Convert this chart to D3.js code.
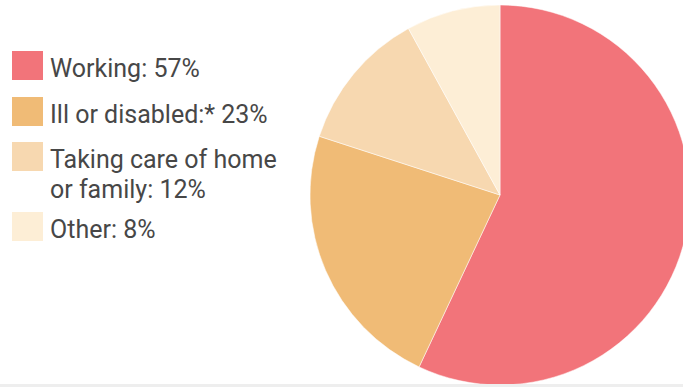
<!DOCTYPE html>
<html>
<head>
<meta charset="utf-8">
<script src="https://cdn.jsdelivr.net/npm/d3@7"></script>
<style>
  body { margin: 0; background: #fff; }
  svg { display: block; }
</style>
</head>
<body>
<div id="chart"></div>
<script>
// data
var categories = ["Working", "Ill or disabled:*", "Taking care of home or family", "Other"];
var values = [57, 23, 12, 8];
var legendLines = [["Working: 57%"], ["Ill or disabled:* 23%"], ["Taking care of home", "or family: 12%"], ["Other: 8%"]];
var colors = ["#f2747a", "#f0bb76", "#f7d8b0", "#fdeed6"];

var width = 683, height = 387;

var svg = d3.select("#chart")
  .append("svg")
    .attr("width", width)
    .attr("height", height);

// the pie
var radius = 190;
var g = svg.append("g")
    .attr("transform", "translate(500,195)");

var pie = d3.pie().sort(null).value(function(d) { return d; });
var arc = d3.arc().innerRadius(0).outerRadius(radius);

var color = d3.scaleOrdinal()
    .domain(categories)
    .range(colors);

g.selectAll("path")
  .data(pie(values))
  .enter().append("path")
    .attr("d", arc)
    .attr("fill", function(d, i) { return color(categories[i]); })
    .attr("stroke", "#fff")
    .attr("stroke-opacity", 0.5)
    .attr("stroke-width", 1);

// legend
var rowY = [51, 97, 142, 212];
var legend = svg.append("g")
  .selectAll("g")
  .data(categories)
  .enter().append("g")
    .attr("transform", function(d, i) { return "translate(12," + rowY[i] + ")"; });

legend.append("rect")
    .attr("width", 31)
    .attr("height", 29)
    .attr("fill", function(d) { return color(d); });

legend.append("text")
    .attr("x", 38)
    .attr("y", 26)
    .attr("fill", "#474747")
    .style("font-family", "Roboto, 'Open Sans', sans-serif")
    .style("font-size", "25px")
    .selectAll("tspan")
    .data(function(d, i) { return legendLines[i]; })
    .enter().append("tspan")
      .attr("x", 38)
      .attr("dy", function(d, j) { return j === 0 ? 0 : 30; })
      .text(function(d) { return d; });

// thin grey band at the bottom
svg.append("rect")
    .attr("x", 0)
    .attr("y", 384)
    .attr("width", width)
    .attr("height", 3)
    .attr("fill", "#eeeeee");
</script>
</body>
</html>
